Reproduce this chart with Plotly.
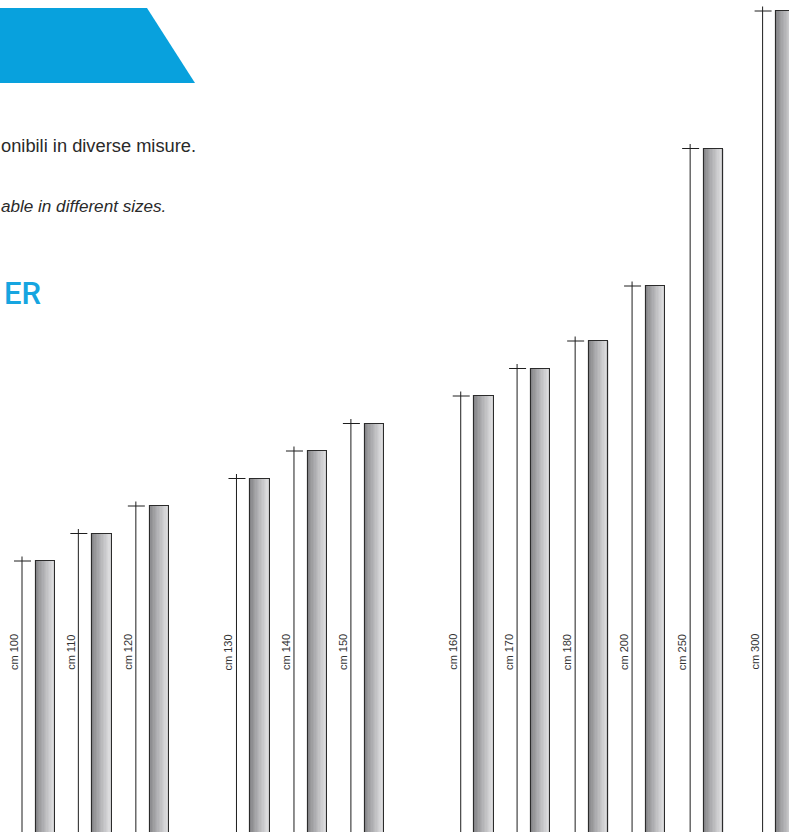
import plotly.graph_objects as go

# ---- data ----
labels = ["cm 100", "cm 110", "cm 120", "cm 130", "cm 140", "cm 150",
          "cm 160", "cm 170", "cm 180", "cm 200", "cm 250", "cm 300"]
heights_cm = [100, 110, 120, 130, 140, 150, 160, 170, 180, 200, 250, 300]
# horizontal slot of each bar (groups of three separated by gaps)
slots = [0, 0.98, 1.98, 3.73, 4.73, 5.72, 7.63, 8.61, 9.62, 10.61, 11.62, 12.88]

text_it = "onibili in diverse misure."
text_en = "able in different sizes."
title_frag = "ER"

# ---- layout constants ----
W, H = 789, 832
PX_X = 57.5          # pixels per slot unit
PX_Y = 2.75          # pixels per cm
X0_PX = 45.5         # pixel x of slot 0
Y0_PX = 836.0        # pixel y of 0 cm
x_range = [-X0_PX / PX_X, (W - X0_PX) / PX_X]
y_range = [(Y0_PX - H) / PX_Y, Y0_PX / PX_Y]

bar_w = 19.5 / PX_X
line_off = -23.5 / PX_X
label_off = -31.5 / PX_X
tick_l = -8 / PX_X
tick_r = 9 / PX_X
over = 4.5 / PX_Y

fig = go.Figure()

# gradient bars made of vertical slices
n_sl = 14
c0 = (132, 132, 135)
c1 = (226, 226, 228)
sw = bar_w / n_sl
for i in range(n_sl):
    t = (i / (n_sl - 1)) ** 0.85
    col = tuple(int(c0[k] + (c1[k] - c0[k]) * t) for k in range(3))
    fig.add_trace(go.Bar(
        x=slots, y=heights_cm, width=sw * 1.05, offset=-bar_w / 2 + i * sw,
        marker=dict(color="rgb(%d,%d,%d)" % col, line=dict(width=0)),
        hoverinfo="skip", showlegend=False))

# outline
fig.add_trace(go.Bar(
    x=slots, y=heights_cm, width=bar_w, offset=-bar_w / 2,
    marker=dict(color="rgba(0,0,0,0)", line=dict(color="#2b2b2b", width=1.1)),
    hovertemplate="%{customdata}<extra></extra>", customdata=labels,
    showlegend=False))

# dimension lines
lx, ly = [], []
for s, h in zip(slots, heights_cm):
    xl = s + line_off
    lx += [xl, xl, None, xl + tick_l, xl + tick_r, None]
    ly += [0, h + over, None, h, h, None]
fig.add_trace(go.Scatter(x=lx, y=ly, mode="lines",
                         line=dict(color="#1e1e1e", width=1),
                         hoverinfo="skip", showlegend=False))

# rotated labels
for s, lab in zip(slots, labels):
    fig.add_annotation(x=s + label_off, y=1 - 672 / H, xref="x", yref="paper",
                       text=lab, textangle=-90, showarrow=False,
                       font=dict(family="Liberation Sans Narrow, Liberation Sans, sans-serif",
                                 size=11, color="#333333"))

# header trapezoid
def px(x, y):
    return x / W, 1 - y / H

pts = [px(0, 8), px(147, 8), px(195, 83), px(0, 83)]
path = "M " + " L ".join("%f,%f" % p for p in pts) + " Z"
fig.add_shape(type="path", path=path, xref="paper", yref="paper",
              fillcolor="#08a1dd", line=dict(width=0), layer="below")

fig.add_annotation(x=-1 / W, y=1 - 145 / H, xref="paper", yref="paper",
                   xanchor="left", yanchor="middle", text=text_it, showarrow=False,
                   font=dict(family="Liberation Sans, sans-serif", size=18.3, color="#2a2a2a"))
fig.add_annotation(x=-1 / W, y=1 - 207 / H, xref="paper", yref="paper",
                   xanchor="left", yanchor="middle", text="<i>" + text_en + "</i>",
                   showarrow=False,
                   font=dict(family="Liberation Sans, sans-serif", size=17.1, color="#2a2a2a"))
fig.add_annotation(x=43 / W, y=1 - 293 / H, xref="paper", yref="paper",
                   xanchor="right", yanchor="middle", text=title_frag, showarrow=False,
                   font=dict(family="Roboto, sans-serif", size=31, weight=500, color="#16a5e0"))

fig.update_layout(
    width=W, height=H, margin=dict(l=0, r=0, t=0, b=0),
    paper_bgcolor="white", plot_bgcolor="white",
    barmode="overlay", bargap=0,
    xaxis=dict(range=x_range, visible=False, fixedrange=True),
    yaxis=dict(range=y_range, visible=False, fixedrange=True),
)

fig.write_html("out.html", config={"displayModeBar": False},
               post_script="document.body.style.margin='0';document.body.style.overflow='hidden';")
